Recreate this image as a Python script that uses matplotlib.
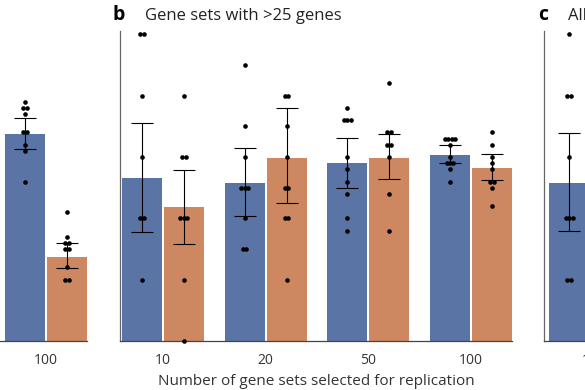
import numpy as np
import matplotlib.pyplot as plt

plt.rcParams['font.family'] = ['Open Sans', 'DejaVu Sans']

# Datos (proporción replicada)
grupos = ["10", "20", "50", "100"]

# Panel a (solo se ve el grupo 100)
a_azul_media, a_azul_lo, a_azul_hi = 0.675, 0.625, 0.726
a_naranja_media, a_naranja_lo, a_naranja_hi = 0.274, 0.237, 0.321
a_azul_puntos = [0.78, 0.76, 0.76, 0.74, 0.68, 0.68, 0.64, 0.62, 0.52]
a_naranja_puntos = [0.42, 0.34, 0.32, 0.32, 0.30, 0.30, 0.24, 0.20, 0.20]

# Panel b: gene sets with >25 genes
b_azul_media = [0.533, 0.515, 0.579, 0.608]
b_azul_lo = [0.355, 0.408, 0.498, 0.579]
b_azul_hi = [0.711, 0.628, 0.663, 0.638]
b_naranja_media = [0.436, 0.596, 0.596, 0.563]
b_naranja_lo = [0.317, 0.449, 0.527, 0.524]
b_naranja_hi = [0.559, 0.759, 0.674, 0.610]
b_azul_puntos = [
    [1.0, 1.0, 0.8, 0.6, 0.4, 0.4, 0.2],
    [0.9, 0.7, 0.6, 0.5, 0.5, 0.5, 0.4, 0.3, 0.3],
    [0.76, 0.72, 0.72, 0.72, 0.60, 0.56, 0.52, 0.48, 0.40, 0.36],
    [0.66, 0.66, 0.66, 0.66, 0.64, 0.60, 0.58, 0.58, 0.58, 0.56, 0.52],
]
b_naranja_puntos = [
    [0.8, 0.6, 0.6, 0.4, 0.4, 0.4, 0.2, 0.0],
    [0.8, 0.8, 0.7, 0.6, 0.5, 0.5, 0.4, 0.4, 0.2],
    [0.84, 0.68, 0.68, 0.64, 0.64, 0.60, 0.48, 0.36],
    [0.68, 0.64, 0.60, 0.58, 0.56, 0.52, 0.52, 0.50, 0.44],
]

# Panel c: All gene sets (solo se ve la barra azul del grupo 10)
c_azul_media, c_azul_lo, c_azul_hi = 0.515, 0.359, 0.678
c_azul_puntos = [1.0, 0.8, 0.8, 0.6, 0.4, 0.4, 0.4, 0.2, 0.2]

azul = '#5A74A6'
naranja = '#CD8862'
ancho = 0.39
desp = 0.204
sep = 0.034


def enjambre(valores):
    # puntos repetidos uno al lado del otro, centrados
    valores = np.array(valores)
    offs = np.zeros(len(valores))
    for v in np.unique(valores):
        idx = np.where(valores == v)[0]
        n = len(idx)
        offs[idx] = (np.arange(n) - (n - 1) / 2) * sep
    return offs


def dibujar_barra(ax, x, media, lo, hi, puntos, color):
    ax.bar(x, media, width=ancho, color=color, zorder=1)
    ax.errorbar(x, media, yerr=[[media - lo], [hi - media]], fmt='none',
                ecolor='black', elinewidth=0.8, capsize=8, capthick=0.8,
                zorder=3)
    ax.scatter(x + enjambre(puntos), puntos, s=11, color='black', zorder=4,
               linewidths=0, clip_on=False)


def estilo(ax, visibles):
    for s in ['top', 'right']:
        ax.spines[s].set_visible(False)
    ax.spines['left'].set_color('#666666')
    ax.spines['bottom'].set_color('#444444')
    ax.spines['left'].set_linewidth(0.9)
    ax.spines['bottom'].set_linewidth(0.9)
    ax.set_yticks([])
    ax.set_ylim(0, 1.011)
    ax.set_xticks(visibles)
    ax.set_xticklabels([grupos[i] for i in visibles], fontsize=10, color='#333333')
    ax.tick_params(axis='x', length=0, pad=9)


fig = plt.figure(figsize=(5.85, 3.9), dpi=100)
W, H = 585, 390
alto = 310 / H
abajo = (H - 341) / H
ancho_ax = 392 / W

ax_a = fig.add_axes([(87 - 392) / W, abajo, ancho_ax, alto])
ax_b = fig.add_axes([120 / W, abajo, ancho_ax, alto])
ax_c = fig.add_axes([544 / W, abajo, ancho_ax, alto])

# solo las etiquetas que caen dentro del recorte
estilo(ax_a, [3])
estilo(ax_b, [0, 1, 2, 3])
estilo(ax_c, [0])
ax_a.set_xlim(-0.419, 3.40)
ax_b.set_xlim(-0.419, 3.40)
ax_c.set_xlim(-0.448, 3.37)

# Panel a
dibujar_barra(ax_a, 3 - desp, a_azul_media, a_azul_lo, a_azul_hi, a_azul_puntos, azul)
dibujar_barra(ax_a, 3 + desp, a_naranja_media, a_naranja_lo, a_naranja_hi, a_naranja_puntos, naranja)

# Panel b
for i in range(len(grupos)):
    dibujar_barra(ax_b, i - desp, b_azul_media[i], b_azul_lo[i], b_azul_hi[i],
                  b_azul_puntos[i], azul)
    dibujar_barra(ax_b, i + desp, b_naranja_media[i], b_naranja_lo[i], b_naranja_hi[i],
                  b_naranja_puntos[i], naranja)
ax_b.set_xlabel('Number of gene sets selected for replication', fontsize=11,
                color='#333333', labelpad=4)

# Panel c
dibujar_barra(ax_c, 0 - desp, c_azul_media, c_azul_lo, c_azul_hi, c_azul_puntos, azul)

# Títulos de paneles
fig.text(113 / W, 1 - 20 / H, 'b', fontsize=14, fontweight='bold', va='baseline')
fig.text(145 / W, 1 - 20 / H, 'Gene sets with >25 genes', fontsize=12,
         color='#222222', va='baseline')
fig.text(538 / W, 1 - 20 / H, 'c', fontsize=14, fontweight='bold', va='baseline')
fig.text(568 / W, 1 - 20 / H, 'All gene sets', fontsize=12,
         color='#222222', va='baseline')

fig.savefig('out.png', dpi=100)
